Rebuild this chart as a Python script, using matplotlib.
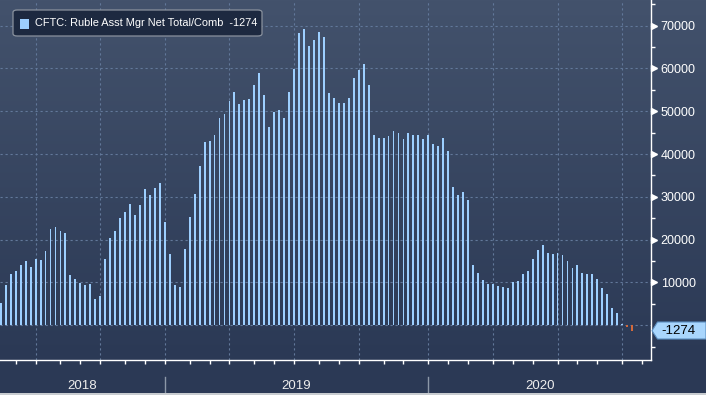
import numpy as np
import pandas as pd
import matplotlib
matplotlib.use("Agg")
import matplotlib.pyplot as plt
from matplotlib.patches import Rectangle, Polygon, FancyBboxPatch
from matplotlib.transforms import blended_transform_factory

# ---------------- data ----------------
series_name = "CFTC: Ruble Asst Mgr Net Total/Comb"
start_date = "2018-05-15"   # weekly (Tuesday) observations
values = [
    5200, 9400, 12000, 12700, 14100, 15000, 13600, 15500, 15300, 17400,
    22500, 23000, 22100, 21600, 11800, 10800, 9900, 9400, 9650, 6150,
    6850, 15400, 20400, 22000, 25100, 26500, 28300, 25800, 28100, 31800,
    30400, 32100, 33200, 24100, 16600, 9400, 8900, 17800, 25300, 30700,
    37200, 42800, 43100, 44400, 48400, 49300, 52400, 54500, 51700, 52600,
    52900, 56200, 59000, 53900, 46300, 49800, 50300, 48400, 54500, 59900,
    68300, 69200, 65300, 66700, 68500, 67400, 54300, 53100, 51900, 51900,
    53100, 57800, 59700, 61000, 56200, 44400, 43800, 43800, 44200, 45400,
    44900, 43500, 44900, 44400, 44400, 43500, 44400, 42300, 41900, 43800,
    40700, 32300, 30400, 31100, 29300, 14100, 12200, 10600, 9650, 9650,
    9200, 8950, 8700, 10100, 10300, 11900, 12700, 15500, 17600, 18800,
    16900, 16600, 16900, 16400, 15000, 13400, 14100, 12200, 11900, 11900,
    10800, 8700, 7300, 4000, 2900, 300, -400, -1274,
]
y_ticks = [10000, 20000, 30000, 40000, 50000, 60000, 70000]
year_labels = ["2018", "2019", "2020"]

# ---------------- figure ----------------
W, H = 706, 395
fig = plt.figure(figsize=(W / 100, H / 100), dpi=100)

def fx(px):
    return px / W

def fy(py):
    return 1 - py / H

# full-figure background gradient
bg = fig.add_axes([0, 0, 1, 1], zorder=-10)
bg.set_axis_off()
top_c = np.array([0x43, 0x52, 0x6c]) / 255
bot_c = np.array([0x2b, 0x39, 0x55]) / 255
rows = np.linspace(0, 1, 395)
t = np.clip(rows / (360 / 395), 0, 1)
grad = (top_c[None, :] * (1 - t[:, None]) + bot_c[None, :] * t[:, None])
grad = np.repeat(grad[:, None, :], 2, axis=1)
bg.imshow(grad, aspect="auto", extent=[0, 1, 0, 1], transform=bg.transAxes)

ax_bottom_px = 360.3
ax_right_px = 651
ax = fig.add_axes([0, fy(ax_bottom_px), fx(ax_right_px), ax_bottom_px / H])
ax.set_facecolor("none")

n_axis = len(values) + 3
dates_axis = pd.date_range(start_date, periods=n_axis, freq="7D")
x = np.arange(len(values))
vals = np.array(values)
colors = ["#9dcfff" if v >= 0 else "#d2693c" for v in vals]
ax.bar(x, vals, width=0.38, color=colors, linewidth=0, zorder=3)

ax.set_xlim(-0.16, 130.8)
ax.set_ylim(-8180, 76000)

# month starts / quarter starts / year starts (first weekly bar of each period)
months = dates_axis.to_period("M")
month_start_idx = [i for i in range(1, n_axis) if months[i] != months[i - 1]]
quarter_idx = [i for i in month_start_idx if dates_axis[i].month in (1, 4, 7, 10)]
year_idx = [i for i in month_start_idx if dates_axis[i].month == 1]

grid_c = "#62789a"
for q in quarter_idx:
    ax.axvline(q, color=grid_c, lw=0.8, ls=(0, (2, 2.5)), zorder=1)
for v in [0] + y_ticks:
    ax.axhline(v, color=grid_c, lw=0.8, ls=(0, (2, 2.5)), zorder=1)

# axes styling
for s in ["left", "top"]:
    ax.spines[s].set_visible(False)
for s in ["bottom", "right"]:
    ax.spines[s].set_color("white")
    ax.spines[s].set_linewidth(1.0)

ax.set_xticks(month_start_idx)
ax.set_xticklabels([])
ax.tick_params(axis="x", colors="white", length=3, width=1, direction="out")

ax.yaxis.tick_right()
ax.set_yticks(y_ticks)
ax.set_yticklabels([str(v) for v in y_ticks])
ax.set_yticks([-5000, 5000, 15000, 25000, 35000, 45000, 55000, 65000, 75000], minor=True)
ax.tick_params(axis="y", which="major", length=0, pad=7, labelcolor="white",
               labelsize=9)
ax.tick_params(axis="y", which="minor", length=3, width=1, color="white")
for lab in ax.get_yticklabels():
    lab.set_fontfamily("Liberation Sans")

# triangle pointers for major ticks
tr = blended_transform_factory(ax.transAxes, ax.transData)
ax.plot([1.0045] * len(y_ticks), y_ticks, marker=">", ls="none", color="white",
        markersize=4.5, transform=tr, clip_on=False, zorder=5)

# year labels and separators below axis
trx = blended_transform_factory(ax.transData, ax.transAxes)
bounds = [ax.get_xlim()[0]] + year_idx + [ax.get_xlim()[1]]
for i, lab in enumerate(year_labels):
    cx = (bounds[i] + bounds[i + 1]) / 2
    ax.text(cx, (ax_bottom_px - 386) / ax_bottom_px, lab, transform=trx,
            ha="center", va="center", color="#eeeeee", fontsize=9.5,
            family="Liberation Sans", clip_on=False)
for yi in year_idx:
    ax.plot([yi, yi], [(ax_bottom_px - 377) / ax_bottom_px, (ax_bottom_px - 393) / ax_bottom_px],
            transform=trx, color="#8c98a8", lw=1, clip_on=False)

# bottom light band
fig.patches.append(Rectangle((0, 0), 1, 2 / H, transform=fig.transFigure,
                             facecolor="#c8ccd0", edgecolor="none"))

# last value label box
last = values[-1]
y_last_px = ax.transData.transform((0, last))[1]
y_last = H - y_last_px
poly = [(652, y_last), (657.5, 322), (706, 322), (706, 339), (657.5, 339)]
fig.patches.append(Polygon([(fx(px), fy(py)) for px, py in poly], closed=True,
                           transform=fig.transFigure, facecolor="#a9d6fd",
                           edgecolor="#5d8fc0", lw=0.8, zorder=10))
fig.text(fx(661), fy(330.5), f"{last}", ha="left", va="center", color="black",
         fontsize=9.5, family="Liberation Sans", zorder=11)

# legend box
fig.patches.append(FancyBboxPatch((fx(13), fy(36)), fx(249), 26 / H,
                                  boxstyle="round,pad=0,rounding_size=0.006",
                                  transform=fig.transFigure, facecolor="#1d2940",
                                  edgecolor="#8a929e", lw=0.9, zorder=10))
fig.patches.append(Rectangle((fx(19.5), fy(28.5)), fx(9.5), 9.5 / H,
                             transform=fig.transFigure, facecolor="#9dcfff",
                             edgecolor="none", zorder=11))
fig.text(fx(35), fy(23.5), f"{series_name}  {last}", ha="left", va="center",
         color="white", fontsize=7.9, family="Liberation Sans", zorder=11)

fig.savefig("out.png", dpi=100)
